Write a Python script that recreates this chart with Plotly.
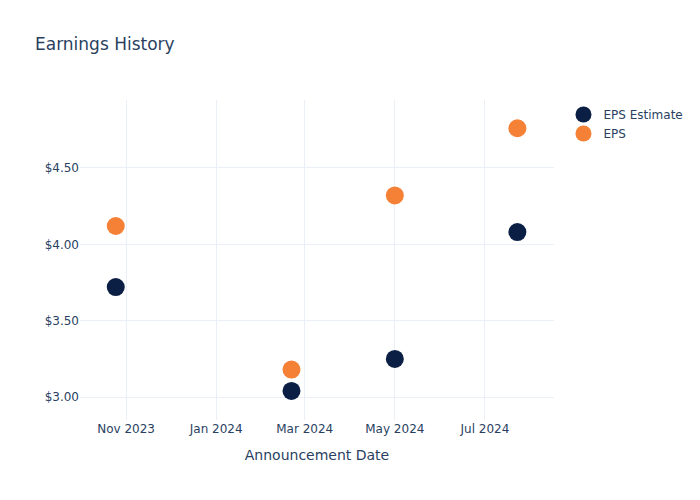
import plotly.graph_objects as go

dates = ['2023-10-25', '2024-02-21', '2024-05-01', '2024-07-23']
eps_estimate = [3.72, 3.04, 3.25, 4.08]
eps_actual = [4.12, 3.18, 4.32, 4.76]

fig = go.Figure()
fig.add_trace(go.Scatter(
    x=dates, y=eps_estimate, name='EPS Estimate', mode='markers',
    marker=dict(color='#0b1f44', size=18)))
fig.add_trace(go.Scatter(
    x=dates, y=eps_actual, name='EPS', mode='markers',
    marker=dict(color='#f58137', size=18)))

fig.update_layout(
    template='plotly_white',
    width=700, height=500,
    font=dict(family='DejaVu Sans'),
    title='Earnings History',
    xaxis=dict(title='Announcement Date',
               range=['2023-09-30 19:00', '2024-08-16 19:00']),
    yaxis=dict(tickprefix='$', tickformat='.2f', range=[2.85, 4.945]),
)
# page body margin would shift the figure, drop it
fig.write_html('out.html', config={'displayModeBar': False},
               post_script="document.body.style.margin='0';")
